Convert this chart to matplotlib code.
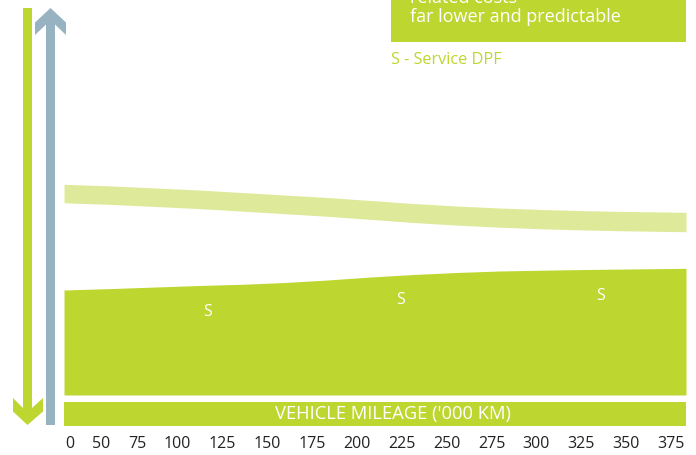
import matplotlib
matplotlib.use("Agg")
import matplotlib.pyplot as plt
from matplotlib.patches import Polygon, Rectangle
import numpy as np

plt.rcParams['font.family'] = ['Open Sans', 'DejaVu Sans']

# ---- data ----
tick_labels = ["0", "50", "75", "100", "125", "150", "175", "200", "225",
               "250", "275", "300", "325", "350", "375"]
# curve sample positions (x units, incl. plot edges)
curve_x = [-0.14, 0, 1, 2, 3, 4, 5, 6, 7, 8, 9, 10, 11, 12, 13, 14, 14.35]
# conventional DPF cost band (upper/lower edges), arbitrary cost units
band_upper = [210.7, 210.5, 209, 207, 205, 202.5, 200, 197.5, 194.5, 191.5,
              189, 187, 185.5, 184.3, 183.5, 182.9, 182.7]
band_lower = [192.3, 192, 190.5, 188.5, 186.4, 183.9, 181.3, 178.7, 175.6,
              172.5, 169.9, 167.8, 166.2, 165, 164.1, 163.5, 163.3]
# service DPF cost area
area_top = [105, 105.2, 106.5, 108, 109.5, 110.7, 112.5, 115, 118, 120.5,
            122.5, 124, 124.8, 125.5, 126, 126.5, 126.7]
service_x = [3.2, 7.7, 12.35]
service_y = [83, 95, 99]
service_labels = ["S", "S", "S"]

box_text = "related costs\nfar lower and predictable"
legend_text = "S - Service DPF"
axis_title = "VEHICLE MILEAGE ('000 KM)"

LIME = "#BED630"
LIGHT = "#DEEA9A"
GREY = "#97B3C1"

W, H = 696, 455
fig = plt.figure(figsize=(W / 100, H / 100), dpi=100)

# background overlay axes in pixel coordinates for decorations
bg = fig.add_axes([0, 0, 1, 1])
bg.set_xlim(0, W)
bg.set_ylim(H, 0)
bg.axis("off")

# green downward chevron arrow
down = [(23, 8), (32, 8), (32, 408), (43, 398), (43, 411.5), (27.5, 425),
        (13, 411.5), (13, 398), (23, 408)]
bg.add_patch(Polygon(down, closed=True, facecolor=LIME, edgecolor="none"))
# grey upward chevron arrow
up = [(46, 425), (55, 425), (55, 24.5), (66, 35), (66, 22.5), (50.5, 8),
      (35, 22.5), (35, 35), (46, 24.5)]
bg.add_patch(Polygon(up, closed=True, facecolor=GREY, edgecolor="none"))

# top-right box
bg.add_patch(Rectangle((391, -5), 295, 47, facecolor=LIME, edgecolor="none"))
bg.text(410, 22, box_text, color="white", fontsize=13, ha="left",
        va="baseline", linespacing=1.05)
bg.text(391, 60, legend_text, color=LIME, fontsize=11.7, ha="left",
        va="center")

# main chart axes
x0, x1 = 64, 686
ax = fig.add_axes([x0 / W, (H - 395) / H, (x1 - x0) / W, 395 / H])
ax.set_xlim(curve_x[0], curve_x[-1])
ax.set_ylim(0, 395)
ax.axis("off")
ax.fill_between(curve_x, band_lower, band_upper, color=LIGHT, linewidth=0)
ax.fill_between(curve_x, 0, area_top, color=LIME, linewidth=0)
for sx, sy, sl in zip(service_x, service_y, service_labels):
    ax.text(sx, sy, sl, color="white", fontsize=11.5, ha="center", va="center")

# label bar axes
ax2 = fig.add_axes([x0 / W, (H - 426) / H, (x1 - x0) / W, 24 / H])
ax2.set_xlim(curve_x[0], curve_x[-1])
ax2.set_ylim(0, 1)
ax2.set_facecolor(LIME)
for s in ax2.spines.values():
    s.set_visible(False)
ax2.set_yticks([])

# tick labels laid out with equal gaps between them (as in the reference)
fs_tick = 11.5
fig.canvas.draw()
renderer = fig.canvas.get_renderer()
widths = []
for lab in tick_labels:
    t = fig.text(0, 0, lab, fontsize=fs_tick)
    widths.append(t.get_window_extent(renderer).width)
    t.remove()
x_first, x_last = 0.0, 14.0
px_per_unit = ax2.transData.transform((1, 0))[0] - ax2.transData.transform((0, 0))[0]
w_units = np.array(widths) / px_per_unit
span = x_last - x_first - (w_units[0] / 2 + w_units[-1] / 2)
gap = (span - w_units[1:-1].sum()) / (len(tick_labels) - 1)
pos = [x_first]
for i in range(1, len(tick_labels)):
    pos.append(pos[-1] + w_units[i - 1] / 2 + gap + w_units[i] / 2)

ax2.set_xticks(pos)
ax2.set_xticklabels(tick_labels, fontsize=fs_tick, color="#222222")
ax2.tick_params(axis="x", length=0, pad=7)
ax2.text(0.529, 0.5, axis_title, transform=ax2.transAxes, color="white",
         fontsize=13.2, ha="center", va="center")

fig.savefig("out.png", dpi=100)
